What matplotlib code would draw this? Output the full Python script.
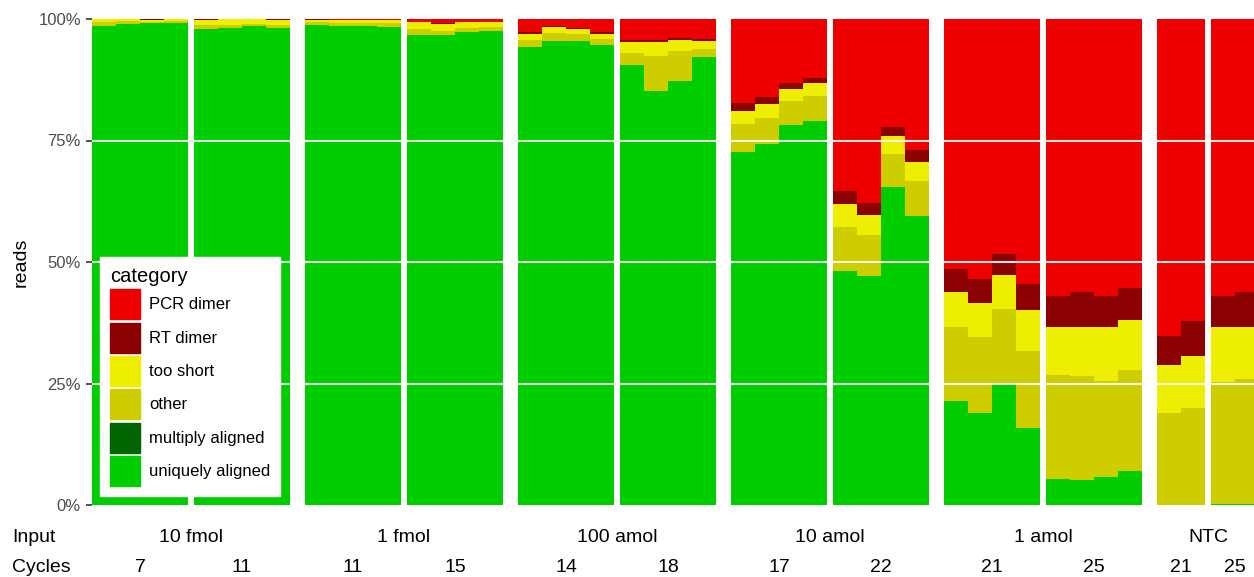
import matplotlib
matplotlib.use("Agg")
import matplotlib.pyplot as plt
import matplotlib.patches as mpatches
import matplotlib.transforms as mtransforms
import numpy as np

plt.rcParams['font.family'] = ['Liberation Sans', 'DejaVu Sans']

# input amount and PCR cycles for each facet
inputs = ['10 fmol', '1 fmol', '100 amol', '10 amol', '1 amol', 'NTC']
cycles = [[7, 11], [11, 15], [14, 18], [17, 22], [21, 25], [21, 25]]

# read fractions (%) per replicate, one inner list per facet panel
uniquely_aligned = [
    [98.6, 99.0, 99.2, 99.25], [97.9, 98.1, 98.6, 98.1],
    [98.8, 98.6, 98.6, 98.4], [96.7, 96.7, 97.3, 97.5],
    [94.2, 95.5, 95.5, 94.6], [90.5, 85.2, 87.2, 92.2],
    [72.6, 74.3, 78.2, 79.0], [48.1, 47.1, 65.4, 59.5],
    [21.4, 18.9, 24.9, 15.8], [5.3, 5.1, 5.7, 7.0],
    [0.0, 0.0], [0.3, 0.3],
]
multiply_aligned = [
    [0, 0, 0, 0], [0, 0, 0, 0],
    [0, 0, 0, 0], [0, 0, 0, 0],
    [0, 0, 0, 0], [0, 0, 0, 0],
    [0, 0, 0, 0], [0, 0, 0, 0],
    [0, 0, 0, 0], [0, 0, 0, 0],
    [0, 0], [0, 0],
]
other = [
    [0.85, 0.5, 0.25, 0.35], [0.9, 0.7, 0.4, 0.7],
    [0.6, 0.6, 0.6, 0.8], [1.2, 0.8, 0.8, 0.8],
    [1.5, 1.6, 1.4, 1.3], [2.5, 7.2, 6.2, 1.6],
    [5.8, 5.3, 4.9, 5.2], [9.1, 8.5, 6.8, 7.2],
    [15.2, 15.7, 15.4, 15.9], [21.4, 21.4, 19.8, 20.8],
    [18.9, 20.0], [25.0, 25.6],
]
too_short = [
    [0.55, 0.5, 0.4, 0.4], [1.0, 1.2, 1.0, 1.0],
    [0.4, 0.6, 0.6, 0.6], [1.5, 1.4, 1.3, 1.1],
    [1.2, 1.3, 1.0, 1.0], [2.3, 2.9, 2.3, 1.7],
    [2.7, 2.9, 2.5, 2.6], [4.7, 4.1, 3.7, 3.9],
    [7.2, 7.0, 7.0, 8.4], [9.9, 10.1, 11.1, 10.3],
    [9.9, 10.7], [11.3, 10.7],
]
rt_dimer = [
    [0.0, 0.0, 0.15, 0.0], [0.2, 0.0, 0.0, 0.2],
    [0.2, 0.0, 0.0, 0.0], [0.0, 0.2, 0.0, 0.0],
    [0.4, 0.2, 0.2, 0.4], [0.4, 0.4, 0.4, 0.4],
    [1.6, 1.4, 1.2, 1.1], [2.7, 2.4, 1.9, 2.4],
    [4.8, 4.9, 4.3, 5.4], [6.4, 7.2, 6.4, 6.6],
    [6.0, 7.2], [6.4, 7.2],
]
pcr_dimer = [
    [0.0, 0.0, 0.0, 0.0], [0.0, 0.0, 0.0, 0.0],
    [0.0, 0.2, 0.2, 0.2], [0.6, 0.9, 0.6, 0.6],
    [2.7, 1.4, 1.9, 2.7], [4.3, 4.3, 3.9, 4.1],
    [17.3, 16.1, 13.2, 12.1], [35.4, 37.9, 22.2, 27.0],
    [51.4, 53.5, 48.4, 54.5], [57.0, 56.2, 57.0, 55.3],
    [65.2, 62.1], [57.0, 56.2],
]

categories = ['uniquely aligned', 'multiply aligned', 'other',
              'too short', 'RT dimer', 'PCR dimer']
series = [uniquely_aligned, multiply_aligned, other,
          too_short, rt_dimer, pcr_dimer]
colors = ['#00CD00', '#006400', '#CDCD00', '#EEEE00', '#8B0000', '#EE0000']

W, H = 1254, 577
fig = plt.figure(figsize=(W / 100, H / 100), dpi=100)

inner_gap = 0.25    # between the two cycle panels of one input
outer_gap = 0.625   # between inputs

# panel left edges
panel_left = []
group_center = []
x = 0.0
for g, cyc in enumerate(cycles):
    start = x
    for p in range(len(cyc)):
        panel_left.append(x)
        x += len(uniquely_aligned[len(panel_left) - 1])
        if p < len(cyc) - 1:
            x += inner_gap
    group_center.append((start + x) / 2)
    x += outer_gap
total = x - outer_gap

ax = fig.add_axes([92 / W, 72 / H, total * 24 / W, 486 / H])

for i, left in enumerate(panel_left):
    n = len(uniquely_aligned[i])
    xs = left + np.arange(n)
    bottom = np.zeros(n)
    for vals, col in zip(series, colors):
        v = np.array(vals[i], dtype=float) / 100
        ax.bar(xs, v, width=1.0, bottom=bottom, align='edge',
               color=col, linewidth=0)
        bottom += v

# white grid lines on top of the bars
for yv in [0.25, 0.5, 0.75]:
    ax.axhline(yv, color='white', lw=1.5, alpha=0.9, zorder=5)

ax.set_xlim(0, total)
ax.set_ylim(0, 1)
ax.set_xticks([])
ax.set_yticks([0, 0.25, 0.5, 0.75, 1.0])
ax.set_yticklabels(['0%', '25%', '50%', '75%', '100%'])
ax.tick_params(axis='y', length=4, width=1.2, color='#333333',
               labelcolor='#4D4D4D', labelsize=12, pad=4)
for s in ax.spines.values():
    s.set_visible(False)
ax.set_ylabel('reads', fontsize=14, labelpad=6)

# facet labels under the panels
tr = mtransforms.blended_transform_factory(ax.transData, fig.transFigure)
fig.text(12 / W, (H - 537) / H, 'Input', fontsize=14, va='center', ha='left')
fig.text(12 / W, (H - 567) / H, 'Cycles', fontsize=14, va='center', ha='left')
for gc, name in zip(group_center, inputs):
    ax.text(gc, (H - 537) / H, name, transform=tr, fontsize=14,
            ha='center', va='center', clip_on=False)
k = 0
for cyc in cycles:
    for c in cyc:
        n = len(uniquely_aligned[k])
        ax.text(panel_left[k] + n / 2, (H - 567) / H, str(c), transform=tr,
                fontsize=14, ha='center', va='center', clip_on=False)
        k += 1

handles = [mpatches.Patch(color=c, label=l)
           for c, l in zip(colors[::-1], categories[::-1])]
leg = fig.legend(handles=handles, title='category', loc='upper left',
                 bbox_to_anchor=(100 / W, (H - 257) / H), borderaxespad=0,
                 fontsize=12, title_fontsize=14.5, frameon=True,
                 fancybox=False, handlelength=1.8, handleheight=2.39,
                 labelspacing=0.2, handletextpad=0.55, borderpad=0.6)
leg._legend_box.align = 'left'
leg.get_frame().set_edgecolor('white')
leg.get_frame().set_facecolor('white')
leg.get_frame().set_alpha(1)

fig.savefig('out.png', dpi=100)
